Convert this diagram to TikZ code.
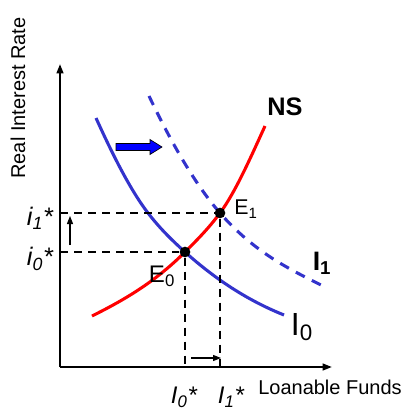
\documentclass[tikz,border=0pt]{standalone}
\usepackage{fontspec}
\setmainfont{Liberation Sans}
\usetikzlibrary{arrows.meta}
\definecolor{curveblue}{RGB}{51,51,204}
\begin{document}
\begin{tikzpicture}[x=0.75pt,y=-0.75pt,
 axis/.style={line width=1.5pt,-{Triangle[length=7pt,width=5pt]}},
 guide/.style={line width=1.1pt,dash pattern=on 6pt off 4.5pt},
 smallarrow/.style={line width=0.8pt,-{Triangle[length=6pt,width=4.5pt]}},
 curve/.style={line width=2.3pt},
 eqdot/.style={circle,fill=black,inner sep=0pt,minimum size=8pt},
 lbl/.style={inner sep=0pt}]
\useasboundingbox (0,0) rectangle (413,410);
% axes
\coordinate (O) at (60,367);
\coordinate (Ytop) at (60,64);
\coordinate (Xend) at (332,367);
\coordinate (E0c) at (185,252);
\coordinate (E1c) at (220,213);
% curves
\draw[curve,curveblue] (96,118) .. controls (113.3,156.1) and (130.7,190.5) .. (148,213)
  .. controls (160.3,229) and (172.7,240.9) .. (E0c)
  .. controls (218,281.7) and (251,301.8) .. (284,315);
\draw[curve,curveblue,dash pattern=on 7.5pt off 6pt] (149,96) .. controls (172.7,145.7) and (196.3,185.8) .. (E1c)
  .. controls (255,253) and (290,269.5) .. (325,287);
\draw[curve,red] (92,316) .. controls (123,300.5) and (154,283) .. (E0c)
  .. controls (196.7,240.3) and (208.3,228.8) .. (E1c)
  .. controls (235,192.75) and (250,159) .. (265,126);
% equilibria
\node[eqdot] (E0) at (E0c) {};
\node[eqdot] (E1) at (E1c) {};
% guide lines
\draw[guide] (O |- E1) -- (E1);
\draw[guide] (O |- E0) -- (E0);
\draw[guide] (E1) -- (E1 |- O);
\draw[guide] (E0) -- (E0 |- O);
\draw[axis] (O) -- (Ytop);
\draw[axis] (O) -- (Xend);
% small arrows
\coordinate (ua) at (70,245);
\coordinate (ub) at (70,216);
\draw[smallarrow] (ua) -- (ub);
\coordinate (ha) at (191,358);
\coordinate (hb) at (221,358);
\draw[smallarrow] (ha) -- (hb);
% shift arrow
\draw[fill=blue,line width=0.5pt] (116,143.5) -- (150,143.5) -- (150,139.5) -- (162,147) -- (150,154.5) -- (150,150.5) -- (116,150.5) -- cycle;
% labels
\node[lbl,font=\fontsize{19}{22}\selectfont\bfseries] (NS) at (285,107) {NS};
\node[lbl,font=\fontsize{20}{24}\selectfont\bfseries] (I1l) at (322,263) {I\textsubscript{1}};
\node[lbl,font=\fontsize{24}{28}\selectfont] (I0l) at (302,327) {I\textsubscript{0}};
\node[lbl,font=\fontsize{16}{19}\selectfont] (E1l) at (246,209) {E\textsubscript{1}};
\node[lbl,font=\fontsize{18}{21}\selectfont] (E0l) at (162,276) {E\textsubscript{0}};
\node[lbl,font=\fontsize{19}{22}\selectfont\itshape] (i1) at (40,218) {i\textsubscript{1}*};
\node[lbl,font=\fontsize{19}{22}\selectfont\itshape] (i0) at (40,259) {i\textsubscript{0}*};
\node[lbl,font=\fontsize{18}{21}\selectfont\itshape] (L0) at (184,397) {I\textsubscript{0}*};
\node[lbl,font=\fontsize{18}{21}\selectfont\itshape] (L1) at (231,397) {I\textsubscript{1}*};
\node[lbl,font=\fontsize{15}{18}\selectfont,anchor=base west] (LF) at (258,394) {Loanable Funds};
\node[lbl,font=\fontsize{15}{18}\selectfont,rotate=90] (RIR) at (18,98) {Real Interest Rate};
\end{tikzpicture}
\end{document}
